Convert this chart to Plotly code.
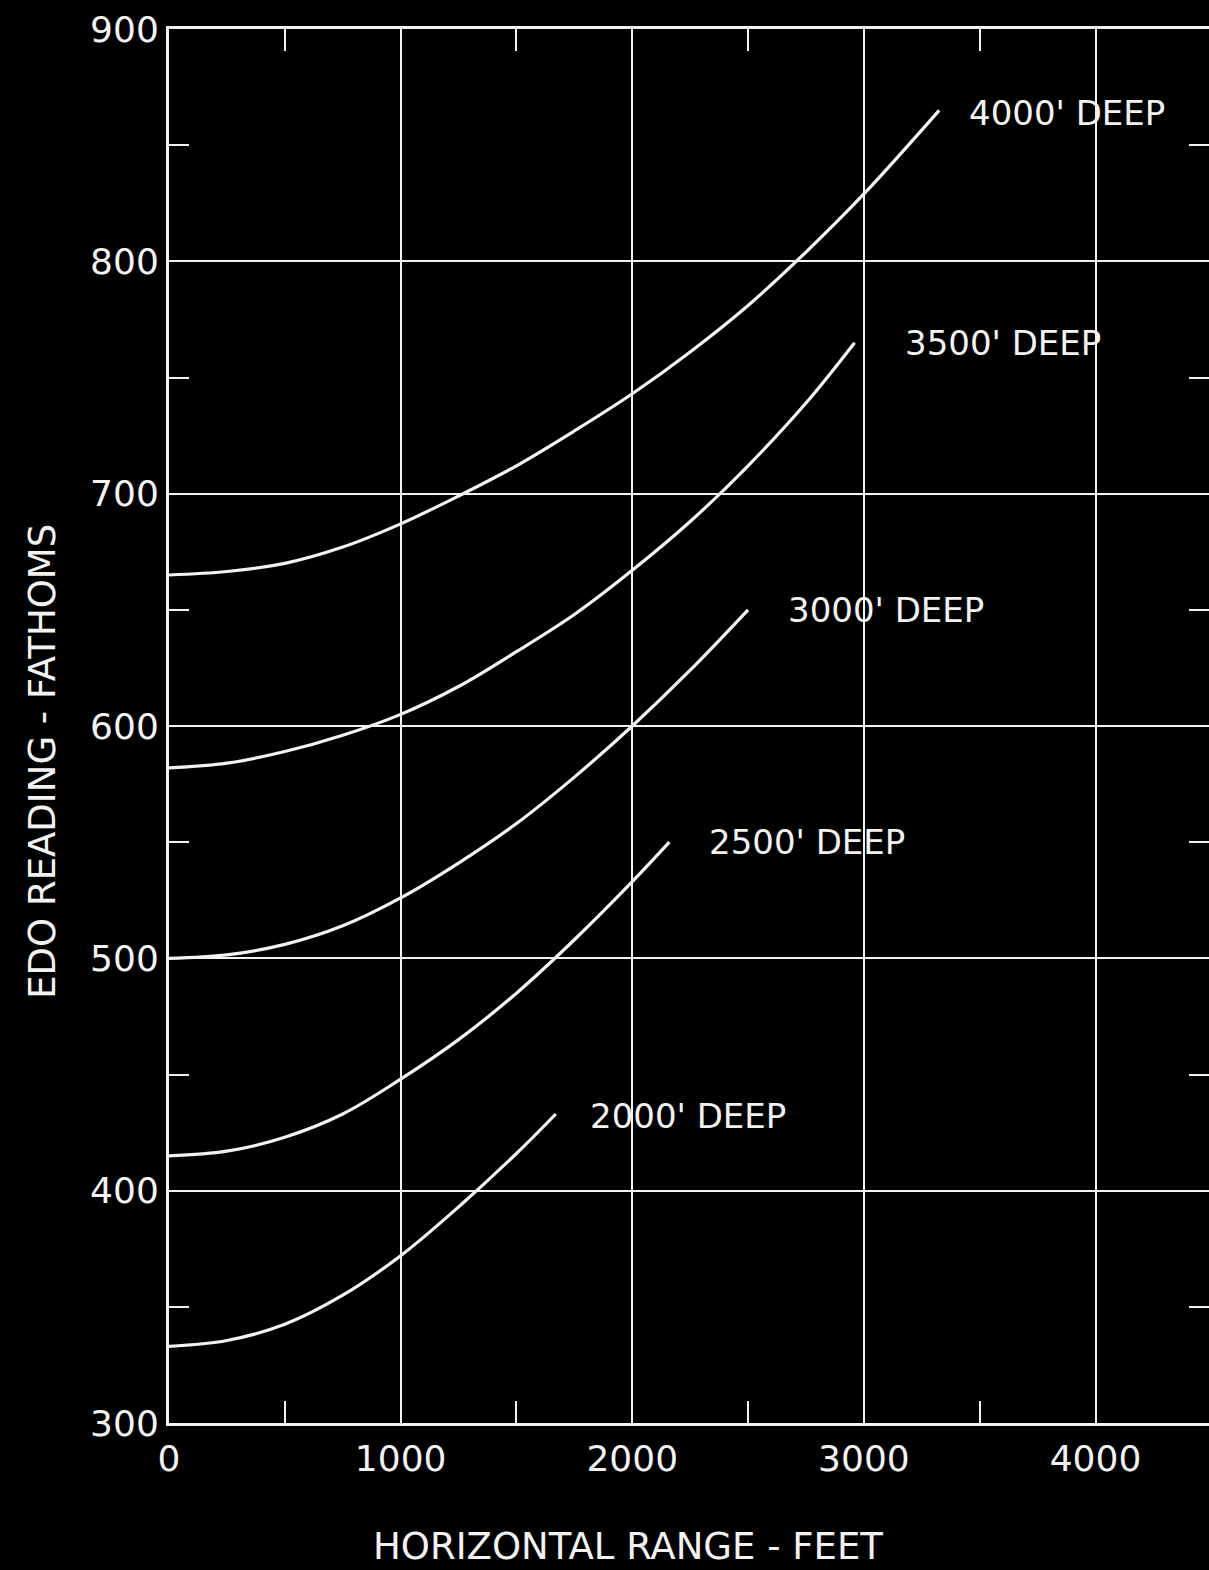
import plotly.graph_objects as go

# ---- data ----
x_4000 = [0, 250, 500, 750, 1000, 1250, 1500, 1750, 2000, 2250, 2500, 2750, 3000, 3325]
y_4000 = [665, 666.5, 670, 677, 687, 699, 712, 727, 743, 761, 781, 804, 829, 865]

x_3500 = [0, 250, 500, 750, 1000, 1250, 1500, 1750, 2000, 2250, 2500, 2750, 2960]
y_3500 = [582, 584, 589, 596, 605, 617, 632, 648, 667, 688, 712, 739, 765]

x_3000 = [0, 250, 500, 750, 1000, 1250, 1500, 1750, 2000, 2250, 2500]
y_3000 = [500, 501.5, 506, 514, 526, 541, 558, 578, 600, 624, 650]

x_2500 = [0, 250, 500, 750, 1000, 1250, 1500, 1750, 2000, 2160]
y_2500 = [415, 417, 423, 433, 448, 465, 485, 508, 533, 550]

x_2000 = [0, 250, 500, 750, 1000, 1250, 1500, 1670]
y_2000 = [333, 335.5, 342.5, 355, 372, 393, 416, 433]

curve_labels = ["4000' DEEP", "3500' DEEP", "3000' DEEP", "2500' DEEP", "2000' DEEP"]
label_x = [3446, 3169, 2664, 2323, 1809]
label_y = [864, 765, 650, 550, 432]

x_title = "HORIZONTAL RANGE - FEET"
y_title = "EDO READING - FATHOMS"

# ---- styling ----
FG = "#f2f2f2"
BG = "#000000"
FONT = "DejaVu Sans"

fig = go.Figure()
series = [(x_4000, y_4000, "y"), (x_3500, y_3500, "y"), (x_3000, y_3000, "y"),
          (x_2500, y_2500, "y"), (x_2000, y_2000, "y2")]
for xs, ys, ax in series:
    fig.add_trace(go.Scatter(
        x=xs, y=ys, mode="lines", yaxis=ax,
        line=dict(color=FG, width=3.2, shape="spline", smoothing=1.0),
        showlegend=False, hoverinfo="skip"))

for txt, lx, ly in zip(curve_labels, label_x, label_y):
    fig.add_annotation(x=lx, y=ly, xref="x", yref="y", text=txt,
                       showarrow=False, xanchor="left", yanchor="middle",
                       font=dict(family=FONT, size=34, color=FG))

# axis titles as annotations for exact placement
fig.add_annotation(text=x_title, xref="paper", yref="paper",
                   x=0.441, y=-0.1052, xanchor="center", yanchor="bottom",
                   showarrow=False, font=dict(family=FONT, size=37, color=FG))
fig.add_annotation(text=y_title, xref="paper", yref="paper",
                   x=-0.1212, y=0.475, xanchor="center", yanchor="middle",
                   textangle=-90, showarrow=False,
                   font=dict(family=FONT, size=37, color=FG))

fig.update_layout(
    template="none",
    width=1209, height=1570,
    margin=dict(l=169, r=0, t=29, b=147, pad=0),
    paper_bgcolor=BG, plot_bgcolor=BG,
    font=dict(family=FONT, color=FG),
    showlegend=False,
    xaxis=dict(
        range=[0, 4490], dtick=1000, tick0=0, automargin=False,
        showgrid=True, gridcolor=FG, gridwidth=2.2,
        zeroline=False,
        showline=True, linecolor=FG, linewidth=3, mirror="ticks",
        ticks="", ticklabelstandoff=2,
        minor=dict(dtick=500, ticks="inside", ticklen=22, tickwidth=2.2,
                   tickcolor=FG, showgrid=False),
        tickfont=dict(family=FONT, size=36, color=FG),
    ),
    yaxis=dict(
        range=[300, 900], dtick=100, tick0=300, automargin=False,
        showgrid=True, gridcolor=FG, gridwidth=2.2,
        zeroline=False,
        showline=True, linecolor=FG, linewidth=3,
        ticks="", ticklabelstandoff=0,
        minor=dict(dtick=50, ticks="inside", ticklen=20, tickwidth=2.2,
                   tickcolor=FG, showgrid=False),
        tickfont=dict(family=FONT, size=36, color=FG),
    ),
    yaxis2=dict(
        overlaying="y", side="right", matches="y", anchor="x",
        automargin=False,
        showgrid=False, zeroline=False, showline=False,
        showticklabels=False, ticks="",
        minor=dict(dtick=50, ticks="inside", ticklen=20, tickwidth=2.2,
                   tickcolor=FG, showgrid=False),
    ),
)

fig.write_html(
    "out.html",
    config={"displayModeBar": False},
    post_script="document.body.style.margin='0';"
                "document.body.style.background='#000';",
)
